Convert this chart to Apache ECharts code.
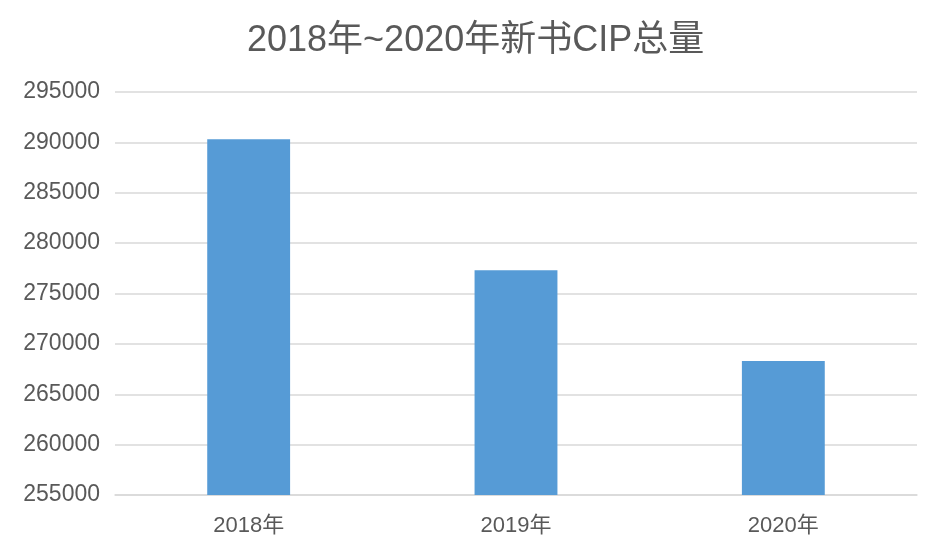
<!DOCTYPE html>
<html>
<head>
<meta charset="utf-8">
<script src="https://cdn.jsdelivr.net/npm/echarts@6/dist/echarts.min.js"></script>
<style>
html,body{margin:0;padding:0;background:#fff;}
#main{width:932px;height:556px;}
</style>
</head>
<body>
<div id="main"></div>
<script>
const categories = ['2018年', '2019年', '2020年'];
const cipTotals = [290300, 277300, 268300];
const yMin = 255000, yMax = 295000, yStep = 5000;

const font = '"Liberation Sans", "Noto Sans CJK SC", sans-serif';
const chart = echarts.init(document.getElementById('main'));
chart.setOption({
  backgroundColor: '#fff',
  animation: false,
  title: {
    text: '2018年~2020年新书CIP总量',
    left: 242,
    top: 18,
    textStyle: { fontFamily: font, fontSize: 36, fontWeight: 'normal', color: '#595959' }
  },
  grid: { left: 115, right: 15, top: 92, bottom: 61, containLabel: false },
  xAxis: {
    type: 'category',
    data: categories,
    axisLine: { show: true, lineStyle: { color: '#d9d9d9', width: 1.5 } },
    axisTick: { show: false },
    axisLabel: { fontFamily: font, fontSize: 22, color: '#595959', margin: 20 }
  },
  yAxis: {
    type: 'value',
    min: yMin, max: yMax, interval: yStep,
    axisLine: { show: false },
    axisTick: { show: false },
    splitLine: { lineStyle: { color: '#d9d9d9', width: 1.5 } },
    axisLabel: {
      fontFamily: font, fontSize: 23, color: '#595959', margin: 15,
      formatter: v => String(v)
    }
  },
  series: [{
    type: 'bar',
    data: cipTotals,
    barWidth: '31%',
    itemStyle: { color: '#569BD6' }
  }]
});
</script>
</body>
</html>
